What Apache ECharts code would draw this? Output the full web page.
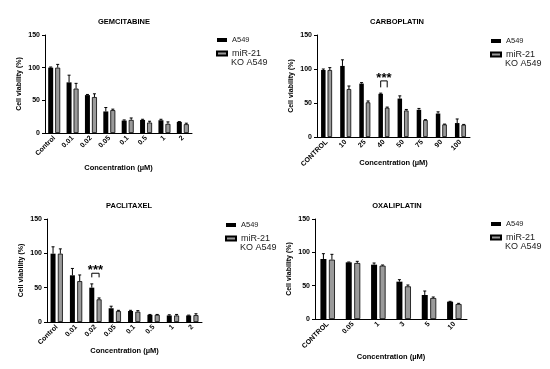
<!DOCTYPE html>
<html><head><meta charset="utf-8">
<script src="https://cdn.jsdelivr.net/npm/echarts@6/dist/echarts.min.js"></script>
<style>html,body{margin:0;padding:0;background:#fff}#c{width:550px;height:369px}</style>
</head><body><div id="c"></div>
<script>
// ---- data ----
const gemCats = ['Control','0.01','0.02','0.05','0.1','0.5','1','2'];
const gemA549 = [100,77.5,58,33,19,20,19.5,17];
const gemA549Err = [1,11,1,6,1,1,1.5,0.5];
const gemKO = [100,68,55,35,20,16,14,13.5];
const gemKOErr = [5,8,5,1.5,3,2,3,1.5];

const carCats = ['CONTROL','10','25','40','50','75','90','100'];
const carA549 = [98.5,104.5,78.5,63.5,56.5,40,34.5,20.5];
const carA549Err = [1.5,9,1.5,1,4,2,2.5,6];
const carKO = [98.5,70.5,51,43,39,25,18.5,18];
const carKOErr = [3.5,4.5,2,1,1.5,0.5,0.5,0.5];

const pacCats = ['Control','0.01','0.02','0.05','0.1','0.5','1','2'];
const pacA549 = [99.5,68,50,20,16,10.5,9.5,9.5];
const pacA549Err = [10,10,5.5,3,1,0.5,1,0.5];
const pacKO = [99.5,59.5,33,16,15,10.5,9.5,10];
const pacKOErr = [7,9,2,1,1.5,0.5,1.5,2];

const oxaCats = ['CONTROL','0.05','1','3','5','10'];
const oxaA549 = [90,85,81.5,56,36,26];
const oxaA549Err = [8,0.5,2.5,3,6,0.5];
const oxaKO = [89,84,80,49,31.5,22.5];
const oxaKOErr = [8,2.5,1,2,1.5,1];

const titles = ['GEMCITABINE','CARBOPLATIN','PACLITAXEL','OXALIPLATIN'];
const yTicks = [0,50,100,150];
const seriesNames = ['A549','miR-21 KO A549'];
const xName = 'Concentration (µM)';
const yName = 'Cell viability (%)';
// significance: [categoryIndex, legBottom, bracketTop, starLevel]
const carSig = [[3,73,82.5,91]];
const pacSig = [[2,65,71,79]];
const sigLabel = '***';

// ---- layout ----
const FONT = '"Liberation Sans", Arial, sans-serif';
const panels = [
  {cats:gemCats,a:gemA549,ae:gemA549Err,k:gemKO,ke:gemKOErr,sig:null,
   grid:{left:45,top:35,width:147,height:98},bw:5,gap:2,xNameY:168,title:[119,13],legend:[216,36]},
  {cats:carCats,a:carA549,ae:carA549Err,k:carKO,ke:carKOErr,sig:carSig,
   grid:{left:317,top:35,width:153,height:102},bw:4.5,gap:2,xNameY:163,title:[392,13],legend:[490,37]},
  {cats:pacCats,a:pacA549,ae:pacA549Err,k:pacKO,ke:pacKOErr,sig:pacSig,
   grid:{left:47,top:219,width:155,height:103},bw:5,gap:2.3,xNameY:351,title:[124,197],legend:[225,221]},
  {cats:oxaCats,a:oxaA549,ae:oxaA549Err,k:oxaKO,ke:oxaKOErr,sig:null,
   grid:{left:315,top:219,width:152,height:100},bw:6,gap:2.5,xNameY:357,title:[392,197],legend:[490,220]}
];

function errRender(sign, bw, gap){
  return function(params, api){
    const x = api.value(0), v = api.value(1), e = api.value(2);
    const p0 = api.coord([x, v]);
    const p1 = api.coord([x, v + e]);
    const cx = p0[0] + sign * (bw + gap) / 2;
    return {type:'group', children:[
      {type:'line', shape:{x1:cx,y1:p0[1],x2:cx,y2:p1[1]}, style:{stroke:'#000',lineWidth:1}},
      {type:'line', shape:{x1:cx-1.5,y1:p1[1],x2:cx+1.5,y2:p1[1]}, style:{stroke:'#000',lineWidth:1}}
    ]};
  };
}
function sigRender(bw, gap){
  return function(params, api){
    const x = api.value(0);
    const pl = api.coord([x, api.value(1)]);
    const pt = api.coord([x, api.value(2)]);
    const ps = api.coord([x, api.value(3)]);
    const off = (bw + gap) / 2;
    const xl = pl[0] - off, xr = pl[0] + off;
    return {type:'group', children:[
      {type:'polyline', shape:{points:[[xl,pl[1]],[xl,pt[1]],[xr,pt[1]],[xr,pl[1]]]}, style:{stroke:'#000',lineWidth:1,fill:null}},
      {type:'text', x:pl[0], y:ps[1] + 3, style:{text:sigLabel, font:'bold 13px '+FONT, fill:'#000', align:'center', verticalAlign:'middle'}}
    ]};
  };
}

const grids=[], xAxes=[], yAxes=[], series=[], legends=[], titleArr=[], graphics=[];
panels.forEach((p,i)=>{
  grids.push(Object.assign({}, p.grid));
  xAxes.push({type:'category', gridIndex:i, data:p.cats, boundaryGap:true,
    axisLine:{lineStyle:{color:'#000',width:1}},
    axisTick:{alignWithLabel:true,length:3,lineStyle:{color:'#000'}},
    axisLabel:{rotate:45,fontFamily:FONT,fontWeight:'bold',fontSize:7,color:'#000',margin:4,interval:0},
    splitLine:{show:false}});
  yAxes.push({type:'value', gridIndex:i, min:yTicks[0], max:yTicks[yTicks.length-1], interval:50,
    name:yName, nameLocation:'middle', nameGap:22, nameRotate:90,
    nameTextStyle:{fontFamily:FONT,fontWeight:'bold',fontSize:7,color:'#000'},
    axisLine:{show:true,lineStyle:{color:'#000',width:1}},
    axisTick:{show:true,length:3,lineStyle:{color:'#000'}},
    axisLabel:{fontFamily:FONT,fontWeight:'bold',fontSize:7,color:'#000',margin:5},
    splitLine:{show:false}});
  const gapPct = (p.gap / p.bw * 100) + '%';
  series.push({type:'bar', name:seriesNames[0], xAxisIndex:i, yAxisIndex:i, data:p.a,
    barWidth:p.bw, barGap:gapPct, itemStyle:{color:'#000',borderColor:'#000',borderWidth:0}, silent:true});
  series.push({type:'bar', name:seriesNames[1], xAxisIndex:i, yAxisIndex:i, data:p.k,
    barWidth:p.bw, barGap:gapPct, itemStyle:{color:'#9a9a9a',borderColor:'#000',borderWidth:0.8}, silent:true});
  series.push({type:'custom', xAxisIndex:i, yAxisIndex:i, z:5, silent:true,
    renderItem:errRender(-1,p.bw,p.gap), encode:{x:0,y:1},
    data:p.a.map((v,j)=>[j,v,p.ae[j]])});
  series.push({type:'custom', xAxisIndex:i, yAxisIndex:i, z:5, silent:true,
    renderItem:errRender(1,p.bw,p.gap), encode:{x:0,y:1},
    data:p.k.map((v,j)=>[j,v,p.ke[j]])});
  if (p.sig) {
    series.push({type:'custom', xAxisIndex:i, yAxisIndex:i, z:6, silent:true,
      renderItem:sigRender(p.bw,p.gap), encode:{x:0,y:2}, data:p.sig});
  }
  titleArr.push({text:titles[i], left:p.title[0], top:p.title[1], textAlign:'center',
    textStyle:{fontFamily:FONT,fontWeight:'bold',fontSize:7.5,color:'#000'}});
  legends.push({orient:'vertical', left:p.legend[0], top:p.legend[1], itemGap:5, padding:0,
    itemWidth:10, itemHeight:4, icon:'rect', selectedMode:false,
    data:[
      {name:seriesNames[0], textStyle:{fontSize:7.5}},
      {name:seriesNames[1], textStyle:{fontSize:9}}
    ],
    formatter:function(n){ return n === seriesNames[1] ? 'miR-21' : n; },
    textStyle:{fontFamily:FONT,color:'#222',fontSize:9}});
  graphics.push({type:'text', left:p.legend[0]+15, top:p.legend[1]+22,
    style:{text:'KO A549', font:'9px '+FONT, fill:'#222'}, silent:true});
  graphics.push({type:'text', x:p.grid.left + p.grid.width/2, y:p.xNameY,
    style:{text:xName, font:'bold 7.5px '+FONT, fill:'#000', align:'center', verticalAlign:'middle'}, silent:true});
});

const chart = echarts.init(document.getElementById('c'), null, {renderer:'canvas'});
chart.setOption({
  animation:false, backgroundColor:'#fff',
  title:titleArr, grid:grids, xAxis:xAxes, yAxis:yAxes, legend:legends, series:series, graphic:graphics
});
</script></body></html>
